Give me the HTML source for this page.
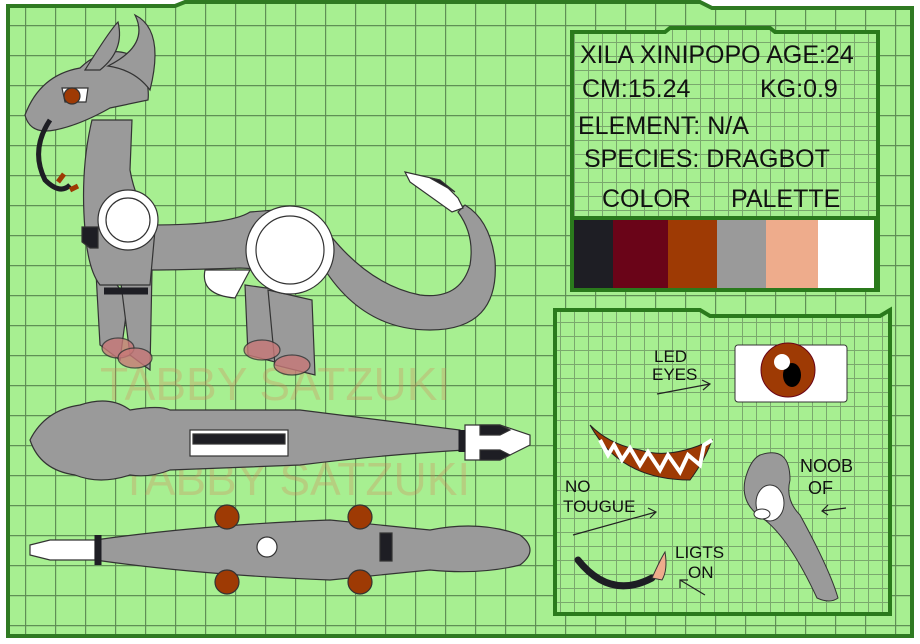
<!DOCTYPE html>
<html><head><meta charset="utf-8"><style>
html,body{margin:0;padding:0;background:#fff;}
svg{display:block;}
.h{font-family:"Liberation Sans",sans-serif;fill:#111;}
</style></head><body>
<svg width="920" height="644" viewBox="0 0 920 644" xmlns="http://www.w3.org/2000/svg">
<defs>
<pattern id="g" width="30" height="30" patternUnits="userSpaceOnUse" x="-5" y="-5">
<rect width="30" height="30" fill="#a7ef91"/>
<path d="M0 0.5H30M0.5 0V30" stroke="#5f8f55" stroke-width="1.4"/>
</pattern>
<pattern id="f" width="14" height="14" patternUnits="userSpaceOnUse">
<rect width="14" height="14" fill="#a7ef91"/>
<path d="M0 0.5H14M0.5 0V14" stroke="#7aa86d" stroke-width="1"/>
</pattern>
</defs>
<rect width="920" height="644" fill="#fff"/>
<path d="M8 6H175L185 2H700L712 8H912V636H8Z" fill="url(#g)" stroke="#2f7a22" stroke-width="4"/>
<!-- watermarks -->
<g opacity="0.3" font-family="Liberation Sans,sans-serif" font-size="46" fill="#d8865a">
<text x="100" y="400">TABBY SATZUKI</text>
<text x="120" y="495">TABBY SATZUKI</text>
</g>
<!-- top right panel -->
<path d="M572 32H665L670 28H770L775 32H878V290H572Z" fill="url(#f)" stroke="#2a7a1c" stroke-width="4"/>
<g class="h" font-size="25">
<text x="580" y="63">XILA XINIPOPO AGE:24</text>
<text x="582" y="97">CM:15.24</text><text x="760" y="97">KG:0.9</text>
<text x="578" y="134">ELEMENT: N/A</text>
<text x="584" y="167">SPECIES: DRAGBOT</text>
<text x="602" y="207">COLOR</text><text x="731" y="207">PALETTE</text>
</g>
<rect x="572" y="220" width="43" height="68" fill="#1e1e24"/>
<rect x="613" y="220" width="56" height="68" fill="#6a0418"/>
<rect x="668" y="220" width="50" height="68" fill="#9e3a04"/>
<rect x="717" y="220" width="50" height="68" fill="#9a9a9a"/>
<rect x="766" y="220" width="53" height="68" fill="#eeac8c"/>
<rect x="818" y="220" width="57" height="68" fill="#fff"/>
<path d="M572 218H876V290H572Z" fill="none" stroke="#2a7a1c" stroke-width="4"/>
<!-- bottom right panel -->
<path d="M555 310H700L710 316H880L890 310V614H555Z" fill="url(#f)" stroke="#2a7a1c" stroke-width="4"/>
<g fill="none" stroke="#222" stroke-width="1.2">
<text class="h" x="654" y="362" font-size="17" stroke="none">LED</text>
<text class="h" x="652" y="380" font-size="17" stroke="none">EYES</text>
<path d="M657 394L710 384M702 380L710 384L703 390"/>
<text class="h" x="565" y="492" font-size="17" stroke="none">NO</text>
<text class="h" x="563" y="512" font-size="17" stroke="none">TOUGUE</text>
<path d="M573 535L656 512M648 508L656 512L650 518"/>
<text class="h" x="800" y="472" font-size="18" stroke="none">NOOB</text>
<text class="h" x="808" y="494" font-size="18" stroke="none">OF</text>
<path d="M846 508L822 511M828 505L822 511L828 515"/>
<text class="h" x="675" y="558" font-size="17" stroke="none">LIGTS</text>
<text class="h" x="688" y="578" font-size="17" stroke="none">ON</text>
<path d="M705 595L680 580M680 588L680 580L688 580"/>
</g>
<rect x="735" y="345" width="112" height="57" rx="3" fill="#fff" stroke="#333"/>
<ellipse cx="788" cy="370" rx="27" ry="27" fill="#9e3a04" stroke="#6a0418"/>
<ellipse cx="792" cy="375" rx="9" ry="12" fill="#000"/>
<circle cx="782" cy="362" r="8" fill="#fff"/>
<path d="M590 425Q620 480 690 480Q705 460 712 440Q670 460 640 450Q610 445 590 425Z" fill="#9e3a04" stroke="#222"/>
<path d="M600 440L608 455L614 445L622 460L630 448L640 465L648 452L660 470L668 455L680 472L688 455L700 465L704 445L712 440" fill="none" stroke="#fff" stroke-width="4"/>
<path d="M760 455Q790 445 790 480Q785 500 800 515Q830 570 838 598Q830 604 817 598Q790 540 765 520Q740 505 745 480Q750 460 760 455Z" fill="#9a9a9a" stroke="#333"/>
<ellipse cx="770" cy="503" rx="14" ry="18" fill="#fff" stroke="#333"/>
<ellipse cx="762" cy="514" rx="8" ry="5" fill="#fff" stroke="#333"/>
<path d="M578 560Q610 600 652 578" fill="none" stroke="#1e1e24" stroke-width="7" stroke-linecap="round"/>
<path d="M652 578Q660 560 665 552Q668 570 662 580Z" fill="#eeac8c" stroke="#333"/>
<!-- side view creature -->
<g stroke="#333" stroke-width="1.2">
<path d="M320 262Q360 330 430 330Q500 330 495 260Q490 220 465 205L458 212Q475 235 470 265Q460 300 420 295Q370 285 330 235Z" fill="#9a9a9a"/>
<path d="M405 172L440 180L458 198L463 208L452 212L410 182Z" fill="#fff"/>
<path d="M430 178L455 192L440 180Z" fill="#1e1e24"/>
<path d="M150 225Q230 225 250 212L300 208Q340 230 320 275Q280 270 240 268Q180 270 150 270Z" fill="#9a9a9a"/>
<path d="M205 270Q200 295 235 298L250 270Z" fill="#fff"/>
<path d="M95 255L100 345L120 360L128 300Z" fill="#9a9a9a"/>
<path d="M118 260L130 355L150 370L152 270Z" fill="#9a9a9a"/>
<path d="M245 285L248 355L275 362L280 290Z" fill="#9a9a9a"/>
<path d="M268 290L275 365L315 375L312 300Z" fill="#9a9a9a"/>
<ellipse cx="118" cy="348" rx="16" ry="10" fill="#c87878" opacity="0.8"/>
<ellipse cx="135" cy="358" rx="17" ry="10" fill="#c87878" opacity="0.8"/>
<ellipse cx="262" cy="350" rx="18" ry="10" fill="#c87878" opacity="0.8"/>
<ellipse cx="292" cy="365" rx="18" ry="10" fill="#c87878" opacity="0.8"/>
<path d="M92 120Q80 170 85 230Q88 270 100 285L150 285L155 230Q135 200 130 170L132 120Z" fill="#9a9a9a"/>
<path d="M25 115Q40 75 80 68Q110 40 140 60Q150 85 148 100L110 108Q80 125 55 130Q30 135 25 115Z" fill="#9a9a9a"/>
<path d="M85 70Q110 30 118 22Q125 50 100 70Z" fill="#9a9a9a"/>
<path d="M108 66Q150 45 135 15Q165 30 150 90Q135 70 108 66Z" fill="#9a9a9a"/>
<path d="M62 88H88L86 102H65Z" fill="#fff"/>
<ellipse cx="72" cy="96" rx="8" ry="8" fill="#9e3a04"/>
<circle cx="128" cy="220" r="30" fill="#fff"/>
<circle cx="128" cy="220" r="22" fill="none"/>
<circle cx="290" cy="250" r="44" fill="#fff"/>
<circle cx="290" cy="250" r="34" fill="none"/>
<path d="M82 227H98V248H90L82 242Z" fill="#1e1e24"/>
</g>
<path d="M50 120Q30 150 45 180Q60 195 70 185" fill="none" stroke="#1e1e24" stroke-width="5"/>
<path d="M58 182L64 174M70 190L78 186" stroke="#9e3a04" stroke-width="5"/>
<path d="M104 291H148" stroke="#1e1e24" stroke-width="7"/>
<!-- top view -->
<g stroke="#333" stroke-width="1.2">
<path d="M30 440Q45 410 80 405Q110 395 130 410Q160 405 170 410L300 410Q380 420 460 430L465 450Q380 455 300 465L170 470Q150 478 130 475Q100 485 75 475Q40 470 30 440Z" fill="#9a9a9a"/>
<path d="M465 425H500L530 435V445L500 460H465Z" fill="#fff"/>
<path d="M480 425H500L510 430L500 435H480Z M480 450H500L510 455L500 460H480Z" fill="#1e1e24"/>
<rect x="190" y="430" width="98" height="26" fill="#fff"/>
<rect x="193" y="434" width="92" height="10" fill="#1e1e24"/>
</g>
<!-- bottom view -->
<g stroke="#333" stroke-width="1.2">
<path d="M95 540Q200 525 330 520L430 530Q480 520 520 535Q540 550 520 565Q480 575 430 570L330 580Q200 575 95 560Z" fill="#9a9a9a"/>
<path d="M30 545L50 540H95V560H50L30 555Z" fill="#fff"/>
<circle cx="227" cy="517" r="12" fill="#9e3a04"/>
<circle cx="227" cy="582" r="12" fill="#9e3a04"/>
<circle cx="360" cy="517" r="12" fill="#9e3a04"/>
<circle cx="360" cy="582" r="12" fill="#9e3a04"/>
<circle cx="267" cy="547" r="10" fill="#fff"/>
<rect x="380" y="533" width="12" height="28" fill="#1e1e24"/>
</g>
<path d="M98 535V565" stroke="#1e1e24" stroke-width="7"/>
<path d="M462 430V452" stroke="#1e1e24" stroke-width="7"/>
</svg>
</body></html>
